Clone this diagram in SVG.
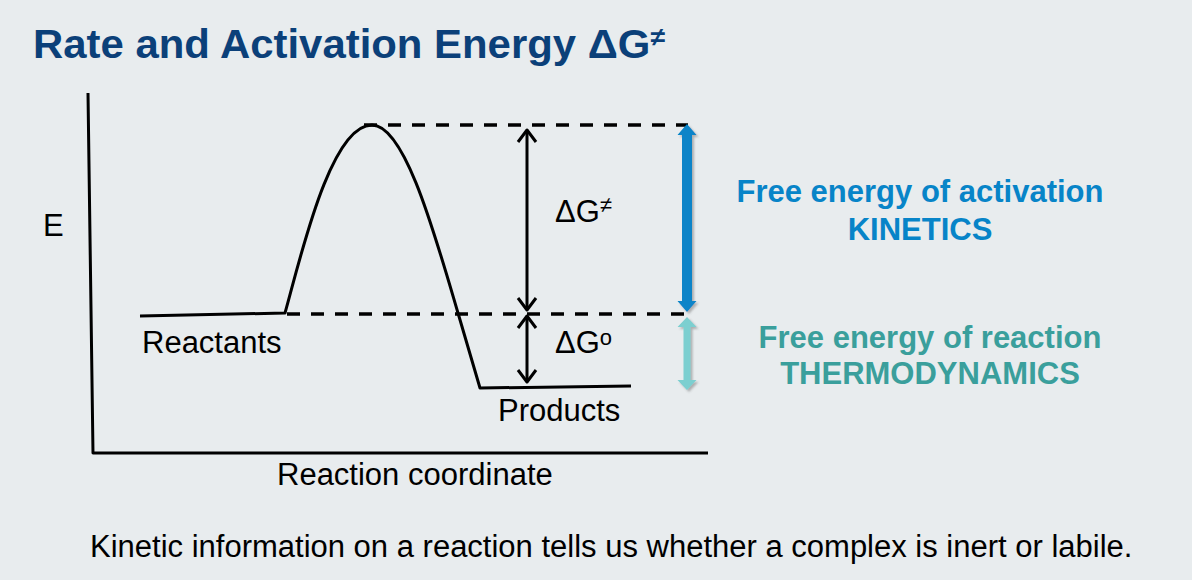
<svg xmlns="http://www.w3.org/2000/svg" width="1192" height="580" viewBox="0 0 1192 580">
<style>
.t{font-family:"Liberation Sans",Arial,sans-serif;font-size:31px;fill:#000}
.b{font-family:"Liberation Sans",Arial,sans-serif;font-size:31px;font-weight:bold}
.ln{fill:none;stroke:#000;stroke-width:3;stroke-linecap:butt;stroke-linejoin:round}
.dash{fill:none;stroke:#000;stroke-width:3.5;stroke-dasharray:13 11}
.blue{fill:#0784c8}
.teal{fill:#3a9f9c}
</style>
<defs>
<filter id="sh" x="-50%" y="-10%" width="200%" height="120%">
<feDropShadow dx="2" dy="2" stdDeviation="1.2" flood-color="#666" flood-opacity="0.45"/>
</filter>
</defs>
<rect width="1192" height="580" fill="#e8ecee"/>
<g id="title">
<text x="33" y="58" font-family="'Liberation Sans',Arial,sans-serif" font-size="41" font-weight="bold" fill="#0b4079" textLength="632" lengthAdjust="spacingAndGlyphs">Rate and Activation Energy ΔG<tspan font-size="26" dy="-12">≠</tspan></text>
</g>
<g id="axes">
<path class="ln" d="M88,93 L93,453 L708,453"/>
<text class="t" x="43" y="236">E</text>
<text class="t" x="277" y="485">Reaction coordinate</text>
</g>
<g id="energy-profile">
<path class="ln" d="M140,316 L285,313 C300,260 330,125 372,125 C405,125 435,235 458,313 L480,388 L631,386"/>
</g>
<g id="reactants">
<text class="t" x="142" y="353">Reactants</text>
</g>
<g id="products">
<text class="t" x="498" y="421">Products</text>
</g>
<g id="guides">
<line class="dash" x1="364" y1="125" x2="688" y2="125"/>
<line class="dash" x1="287" y1="314" x2="692" y2="314"/>
</g>
<g id="connectors">
<g id="dg-activation-arrow">
<path class="ln" d="M527,130 L527,310"/>
<path class="ln" d="M518,142 L527,130 L536,142"/>
<path class="ln" d="M518,298 L527,310 L536,298"/>
</g>
<g id="dg-reaction-arrow">
<path class="ln" d="M527,316 L527,382"/>
<path class="ln" d="M518,328 L527,316 L536,328"/>
<path class="ln" d="M518,370 L527,382 L536,370"/>
</g>
<polygon class="blue" filter="url(#sh)" points="687,124 696.5,135 692,135 692,301 696.5,301 687,312 677.5,301 682,301 682,135 677.5,135"/>
<polygon fill="#7ccfd0" filter="url(#sh)" points="687,317 696.5,327 690.5,327 690.5,380 696.5,380 687,390 677.5,380 683.5,380 683.5,327 677.5,327"/>
</g>
<g id="dg-labels">
<text class="t" x="555" y="222">ΔG<tspan font-size="22" dy="-10">≠</tspan></text>
<text class="t" x="555" y="353">ΔG<tspan font-size="22" dy="-8">o</tspan></text>
</g>
<g id="kinetics">
<text class="b blue" x="920" y="202" text-anchor="middle">Free energy of activation</text>
<text class="b blue" x="920" y="240" text-anchor="middle">KINETICS</text>
</g>
<g id="thermodynamics">
<text class="b teal" x="930" y="348" text-anchor="middle">Free energy of reaction</text>
<text class="b teal" x="930" y="384" text-anchor="middle">THERMODYNAMICS</text>
</g>
<g id="caption">
<text class="t" x="90" y="557">Kinetic information on a reaction tells us whether a complex is inert or labile.</text>
</g>
</svg>
